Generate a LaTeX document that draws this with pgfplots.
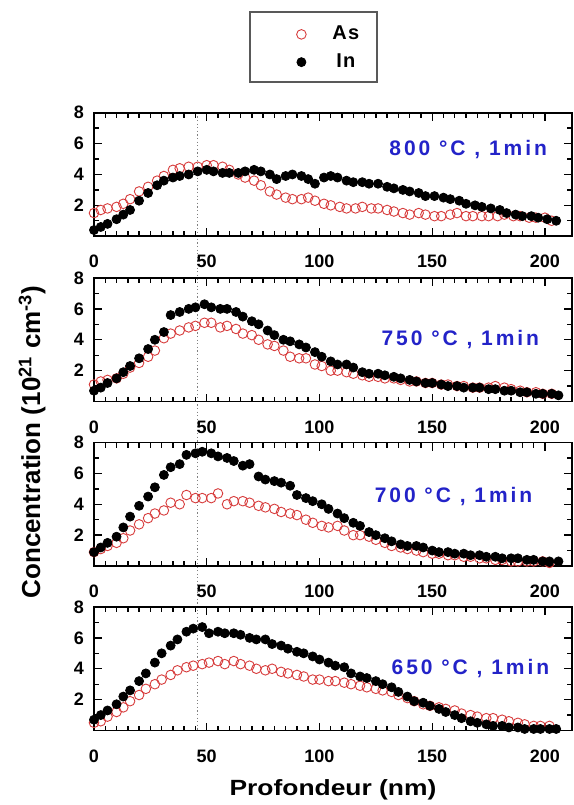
\documentclass[border=0pt]{standalone}
\usepackage{fontspec}
\setmainfont{Liberation Sans}
\usepackage{pgfplots}
\pgfplotsset{compat=1.18}
\pgfdeclarelayer{bg}
\pgfsetlayers{bg,main}
\definecolor{asred}{RGB}{215,60,60}
\definecolor{annblue}{RGB}{35,35,200}
\newfontfamily\annfont{Liberation Sans}[LetterSpace=14]
\newfontfamily\legfont{Liberation Sans}[LetterSpace=6]

% ---------- data ----------
\pgfplotstableread{
x y
0 1.5
3 1.7
6 1.8
10 1.9
13 2.1
16 2.4
20 2.9
24 3.2
28 3.6
31 3.9
35 4.3
38 4.4
42 4.5
46 4.5
50 4.6
53 4.6
57 4.5
60 4.3
64 4.0
67 3.8
71 3.6
74 3.3
78 2.9
81 2.7
85 2.5
88 2.4
92 2.4
95 2.5
98 2.3
102 2.1
105 2.0
109 1.9
112 1.8
116 1.8
119 1.9
123 1.8
126 1.8
130 1.7
133 1.6
137 1.5
140 1.4
144 1.5
147 1.4
151 1.3
154 1.3
158 1.4
161 1.5
165 1.3
168 1.3
172 1.3
175 1.3
179 1.3
182 1.4
186 1.3
189 1.3
193 1.2
196 1.2
200 1.2
203 1.0
}\AsA
\pgfplotstableread{
x y
0 0.4
3 0.6
6 0.8
10 1.1
13 1.4
16 1.7
20 2.3
24 2.8
28 3.3
31 3.6
35 3.8
38 3.9
42 4.0
46 4.2
50 4.3
53 4.2
57 4.1
60 4.1
64 4.1
67 4.2
71 4.3
74 4.2
78 4.0
81 3.7
85 3.9
88 4.0
92 3.9
95 3.7
98 3.4
102 3.8
105 3.9
108 3.8
112 3.6
115 3.5
119 3.5
122 3.4
126 3.4
130 3.2
133 3.1
137 3.0
140 2.9
144 2.8
147 2.6
151 2.6
155 2.5
158 2.4
162 2.3
165 2.1
169 2.0
172 1.9
176 1.8
180 1.7
183 1.5
187 1.4
190 1.3
194 1.3
197 1.2
201 1.1
205 1.0
}\InA
\pgfplotstableread{
x y
0 1.1
3 1.3
6 1.4
10 1.5
13 1.8
16 2.2
20 2.5
24 2.9
27 3.3
31 4.1
34 4.4
38 4.6
42 4.8
45 4.9
49 5.1
52 5.1
56 4.8
59 4.9
63 4.7
66 4.4
70 4.3
73 4.0
77 3.7
80 3.6
84 3.3
87 2.9
91 2.8
94 2.8
98 2.4
101 2.3
105 2.0
108 2.0
112 1.9
115 1.8
119 1.7
122 1.6
126 1.6
129 1.5
133 1.5
136 1.4
140 1.3
143 1.3
147 1.2
150 1.2
154 1.1
157 1.1
161 1.0
164 1.0
168 0.9
171 0.9
175 0.9
178 1.0
182 0.9
185 0.8
189 0.7
192 0.6
196 0.6
199 0.5
203 0.5
}\AsB
\pgfplotstableread{
x y
0 0.7
3 0.9
6 1.2
10 1.5
13 1.9
16 2.3
20 2.8
24 3.4
27 4.0
31 4.5
34 5.6
38 5.8
42 6.0
45 6.1
49 6.3
52 6.1
56 6.0
59 6.0
63 5.8
66 5.5
70 5.2
73 5.0
77 4.6
80 4.3
84 4.0
87 3.9
91 3.7
94 3.5
98 3.2
101 2.9
105 2.6
108 2.4
112 2.4
115 2.2
119 1.9
122 1.8
126 1.8
129 1.7
133 1.6
136 1.5
140 1.4
143 1.3
147 1.2
150 1.2
154 1.1
157 1.0
161 1.0
164 0.9
168 0.9
171 0.9
175 0.8
178 0.8
182 0.7
185 0.7
189 0.6
192 0.6
196 0.5
199 0.5
203 0.5
206 0.4
}\InB
\pgfplotstableread{
x y
0 0.9
3 1.1
6 1.3
10 1.5
13 1.8
16 2.3
20 2.7
24 3.1
27 3.4
31 3.6
34 4.1
38 4.0
41 4.6
45 4.4
48 4.4
52 4.4
55 4.7
59 4.0
62 4.2
66 4.2
69 4.1
73 3.9
76 3.8
80 3.7
83 3.5
87 3.4
90 3.3
94 3.0
97 2.8
101 2.6
104 2.5
108 2.6
111 2.3
115 2.0
118 2.0
122 1.9
125 1.7
129 1.5
132 1.3
136 1.2
139 1.1
143 1.0
146 0.9
150 0.8
153 0.8
157 0.7
160 0.7
164 0.6
167 0.6
171 0.5
174 0.5
178 0.4
181 0.4
185 0.3
188 0.3
192 0.3
195 0.3
199 0.3
202 0.2
}\AsC
\pgfplotstableread{
x y
0 0.9
3 1.2
6 1.5
10 1.9
13 2.5
16 3.2
20 3.9
24 4.5
27 5.1
31 5.9
34 6.4
38 6.6
41 7.2
45 7.3
48 7.4
52 7.3
55 7.1
59 7.0
62 6.8
66 6.5
69 6.6
73 5.8
76 5.6
80 5.5
83 5.4
87 5.2
90 4.6
94 4.4
97 4.2
101 4.0
104 3.7
108 3.4
111 3.1
115 2.8
118 2.6
122 2.2
125 2.0
129 1.8
132 1.6
136 1.4
139 1.3
143 1.3
146 1.2
150 1.0
153 0.9
157 0.9
160 0.8
164 0.8
167 0.7
171 0.7
174 0.6
178 0.6
181 0.5
185 0.5
188 0.5
192 0.4
195 0.4
199 0.3
202 0.3
206 0.3
}\InC
\pgfplotstableread{
x y
0 0.5
3 0.6
6 0.9
10 1.2
13 1.5
16 1.9
20 2.3
23 2.7
27 3.0
30 3.3
34 3.6
37 3.9
41 4.1
44 4.2
48 4.3
51 4.4
55 4.5
58 4.3
62 4.5
65 4.3
69 4.2
72 4.0
76 3.9
79 4.0
83 3.8
86 3.7
90 3.6
93 3.5
97 3.3
100 3.3
104 3.2
107 3.2
111 3.1
114 3.0
118 2.9
121 2.8
125 2.7
128 2.6
132 2.5
135 2.3
139 2.1
142 1.9
146 1.7
149 1.6
153 1.5
156 1.4
160 1.3
163 1.1
167 1.0
170 0.9
174 0.8
177 0.8
181 0.7
184 0.6
188 0.5
191 0.4
195 0.3
198 0.3
202 0.3
}\AsD
\pgfplotstableread{
x y
0 0.7
3 1.0
6 1.3
10 1.7
13 2.2
16 2.6
20 3.2
23 3.7
27 4.4
30 5.0
34 5.5
37 5.9
41 6.4
44 6.6
48 6.7
51 6.3
55 6.4
58 6.3
62 6.3
65 6.2
69 6.0
72 5.9
76 5.9
79 5.6
83 5.5
86 5.3
90 5.1
93 5.0
97 4.8
100 4.6
104 4.4
107 4.2
111 4.1
114 3.7
118 3.5
121 3.4
125 3.2
128 3.0
132 2.8
135 2.5
139 2.2
142 1.9
146 1.8
149 1.6
153 1.4
156 1.2
160 1.0
163 0.8
167 0.6
170 0.5
174 0.4
177 0.3
181 0.3
184 0.2
188 0.2
191 0.1
195 0.1
198 0.1
202 0.1
205 0.1
}\InD

\pgfplotsset{
  panel/.style={
    scale only axis, width=239pt, height=61.75pt,
    anchor=north west,
    xmin=0, xmax=212, ymin=0, ymax=8,
    xtick={0,50,100,150,200}, minor x tick num=9,
    ytick={2,4,6,8}, minor ytick={1,3,5,7},
    major tick length=4pt, minor tick length=2.5pt,
    tick align=inside,
    axis line style={line width=0.9pt},
    every tick/.style={line width=0.7pt, black},
    /pgf/number format/assume math mode=true,
    ticklabel style={font=\bfseries\fontsize{9}{10}\selectfont},
    xticklabel style={yshift=-6pt},
    yticklabel style={xshift=-1.5pt},
    clip=false,
  },
  asS/.style={only marks, mark=o, mark size=2.4pt, mark options={draw=asred, line width=0.45pt}},
  inS/.style={only marks, mark=*, mark size=2.25pt, mark options={fill=black, draw=black}},
}
\tikzset{ann/.style={anchor=east, text=annblue, font=\annfont\bfseries\fontsize{10.5}{12}\selectfont}}

\begin{document}
\begin{tikzpicture}
\useasboundingbox (0,0) rectangle (287pt,-402.5pt);

\begin{axis}[panel, at={(47pt,-56.35pt)},
  legend style={at={(0.3264,1.77)}, anchor=north west, draw=none, fill=none,
    font=\legfont\bfseries\fontsize{10}{12}\selectfont, row sep=1.5pt,
    /tikz/every even column/.style={column sep=3pt}},
  legend image code/.code={\path[draw=none, fill=none] (0pt,0pt) -- (36pt,0pt); \draw[#1] plot[only marks] coordinates {(22.5pt,0pt)};}]
  \addplot[asS] table {\AsA};
  \addplot[inS] table {\InA};
  \legend{As, In}
  \node[ann] at (axis cs:204,5.6) {800 °C , 1min};
  \coordinate (dtop) at (axis cs:46,8);
\end{axis}

\begin{axis}[panel, at={(47pt,-139pt)}]
  \addplot[asS] table {\AsB};
  \addplot[inS] table {\InB};
  \node[ann] at (axis cs:200.5,4.0) {750 °C , 1min};
\end{axis}

\begin{axis}[panel, at={(47pt,-221.25pt)}]
  \addplot[asS] table {\AsC};
  \addplot[inS] table {\InC};
  \node[ann] at (axis cs:197.5,4.5) {700 °C , 1min};
\end{axis}

\begin{axis}[panel, at={(47pt,-303.5pt)}]
  \addplot[asS] table {\AsD};
  \addplot[inS] table {\InD};
  \node[ann] at (axis cs:205,4.0) {650 °C , 1min};
  \coordinate (dbot) at (axis cs:46,0);
\end{axis}

\begin{pgfonlayer}{bg}
  \draw[gray, line width=0.4pt, dash pattern=on 0.6pt off 1.2pt] (dtop) -- (dbot);
\end{pgfonlayer}

\draw[gray!70!black, line width=0.6pt] (125pt,-6pt) rectangle (188.5pt,-41pt);

\node[rotate=90, font=\bfseries\fontsize{13}{15}\selectfont] at (16pt,-221pt)
  {Concentration (10\textsuperscript{21} cm\textsuperscript{-3})};
\node[xscale=1.2, font=\bfseries\fontsize{11}{13}\selectfont] at (166.5pt,-395pt) {Profondeur (nm)};
\end{tikzpicture}
\end{document}
